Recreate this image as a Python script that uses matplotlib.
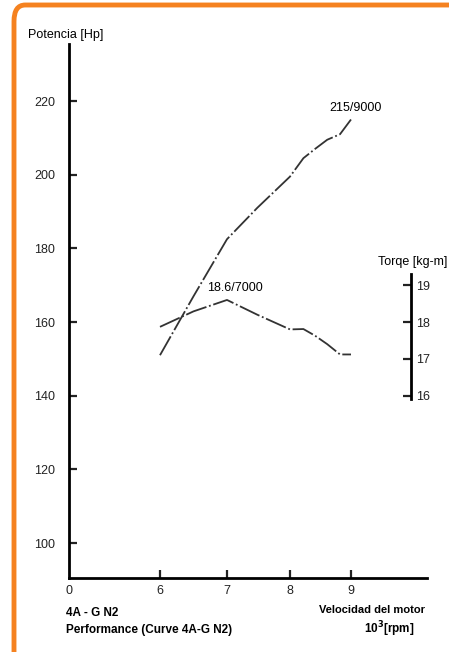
import matplotlib
matplotlib.use("Agg")
import matplotlib.pyplot as plt
from matplotlib.patches import FancyBboxPatch
import numpy as np

plt.rcParams['font.family'] = ['Liberation Sans', 'DejaVu Sans']

# data
rpm = [6.0, 6.5, 7.0, 7.48, 8.0, 8.22, 8.41, 8.61, 8.82, 9.0]
potencia = [151, 167, 182.5, 191, 199.5, 204.5, 207, 209.5, 211, 215]
torque = [17.87, 18.29, 18.6, 18.2, 17.8, 17.81, 17.63, 17.4, 17.12, 17.12]
y_ticks = [100, 120, 140, 160, 180, 200, 220]
t_ticks = [16, 17, 18, 19]
x_ticks = [6, 7, 8, 9]

W, H = 449, 652
fig = plt.figure(figsize=(W / 100, H / 100), dpi=100)

# orange rounded frame
frame = FancyBboxPatch((14 / W, -40 / H), 450 / W, (H - 5 + 40) / H,
                       boxstyle="round,pad=0,rounding_size=0.025",
                       transform=fig.transFigure, fill=False,
                       edgecolor="#F58220", linewidth=3.5, clip_on=False)
fig.patches.append(frame)

ax = fig.add_axes([69 / W, 1 - 578 / H, (427 - 69) / W, (578 - 44) / H])

# the rpm axis is uneven in the original (broken between 0 and 6)
knots_r = [4, 6, 7, 8, 9, 11]
knots_p = [32, 160, 227, 290, 351, 473]
fwd = lambda r: np.interp(r, knots_r, knots_p)
inv = lambda p: np.interp(p, knots_p, knots_r)
ax.set_xscale('function', functions=(fwd, inv))
x0 = 4 + (69 - 32) / 64
x1 = 9 + 76 / 61
ax.set_xlim(x0, x1)
ax.set_ylim(90.5, 235.5)

ax.spines['top'].set_visible(False)
ax.spines['right'].set_visible(False)
ax.spines['left'].set_linewidth(2)
ax.spines['bottom'].set_linewidth(2)

ax.set_yticks(y_ticks)
ax.set_xticks([x0] + x_ticks)
ax.set_xticklabels(['0'] + [str(v) for v in x_ticks])
ax.minorticks_off()
ax.tick_params(axis='y', direction='in', length=6, width=1.6, pad=10,
               labelsize=9, colors='#222222')
ax.tick_params(axis='x', direction='in', length=6, width=1.6, pad=5,
               labelsize=9, colors='#222222')
ax.get_xticklines()[0].set_visible(False)

dash = (0, (12, 1.5, 1, 1.5))
ax.plot(rpm, potencia, color='#333333', lw=1.3, ls=dash)

# torque axis: 1 kg-m = 10 Hp on screen, 16 kg-m at 140 Hp
ax2 = ax.twinx()
ax2.set_ylim(16 + (90.5 - 140) / 10, 16 + (235.5 - 140) / 10)
for s in ['top', 'left', 'bottom']:
    ax2.spines[s].set_visible(False)
ax2.spines['right'].set_position(('axes', (411 - 69) / (427 - 69)))
ax2.spines['right'].set_bounds(15.9, 19.3)
ax2.spines['right'].set_linewidth(2)
ax2.set_yticks(t_ticks)
ax2.tick_params(axis='y', direction='in', length=6, width=1.6, pad=4,
                labelsize=9, colors='#222222')
ax2.plot(rpm, torque, color='#333333', lw=1.3, ls=dash)

ax.text(9.08, 216.5, '215/9000', fontsize=9, ha='center', va='bottom')
ax2.text(7.13, 18.75, '18.6/7000', fontsize=9, ha='center', va='bottom')

fig.text(28 / W, 1 - 35 / H, 'Potencia [Hp]', fontsize=9, va='center')
fig.text(447 / W, 1 - 262 / H, 'Torqe [kg-m]', fontsize=9, va='center', ha='right')

fig.text(66 / W, 1 - 613 / H, '4A - G N2', fontsize=8.5, fontweight='bold', va='center')
fig.text(66 / W, 1 - 630 / H, 'Performance (Curve 4A-G N2)', fontsize=8.5,
         fontweight='bold', va='center')
fig.text(425 / W, 1 - 610 / H, 'Velocidad del motor', fontsize=8,
         fontweight='bold', va='center', ha='right')
fig.text(415 / W, 1 - 629 / H, r'10$^\mathbf{3}$[rpm]', fontsize=8.5,
         fontweight='bold', va='center', ha='right')

fig.savefig('out.png', dpi=100)
